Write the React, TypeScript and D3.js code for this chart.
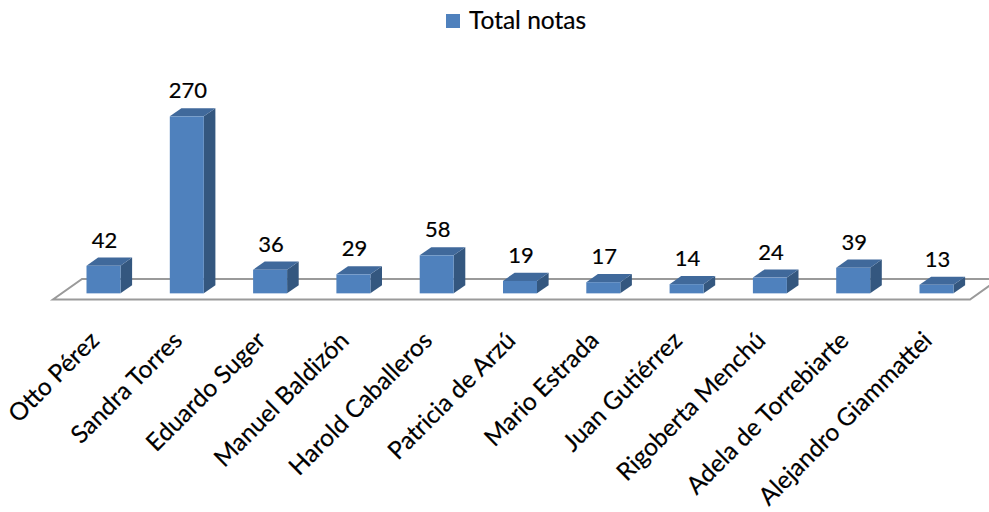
import React from 'react';
import * as d3 from 'd3';

const candidatos = [
  'Otto Pérez',
  'Sandra Torres',
  'Eduardo Suger',
  'Manuel Baldizón',
  'Harold Caballeros',
  'Patricia de Arzú',
  'Mario Estrada',
  'Juan Gutiérrez',
  'Rigoberta Menchú',
  'Adela de Torrebiarte',
  'Alejandro Giammattei',
];
const totalNotas = [42, 270, 36, 29, 58, 19, 17, 14, 24, 39, 13];
const serieNombre = 'Total notas';

const W = 989;
const H = 512;
const font = 'Lato, "Open Sans", sans-serif';

// floor geometry (front edge + depth vector)
const floorFrontY = 299.5;
const floorLeft = 53;
const floorRight = 970;
const depth = { dx: 29, dy: -20.5 };
const barDepth = 0.4; // fraction of floor depth
const barOffset = 0.3; // where the bar front sits inside the floor
const barW = 34;

const App = () => {
  const x = d3.scalePoint<string>().domain(candidatos).range([103.5, 936.5]);
  const h = d3.scaleLinear().domain([0, 270]).range([0, 177]);

  const baseY = floorFrontY + depth.dy * barOffset;
  const ddx = depth.dx * barDepth;
  const ddy = depth.dy * barDepth;

  const floor = [
    [floorLeft, floorFrontY],
    [floorRight, floorFrontY],
    [floorRight + depth.dx, floorFrontY + depth.dy],
    [floorLeft + depth.dx, floorFrontY + depth.dy],
  ];

  const txt = { fontFamily: font, fill: '#000', stroke: '#000', strokeWidth: 0.2 };

  return (
    <svg
      width={W}
      height={H}
      style={{ position: 'absolute', left: 0, top: 0, background: '#fff' }}
    >
      {/* legend */}
      <rect x={446} y={14} width={14} height={14} fill="#4F81BD" />
      <text x={469} y={28.5} fontSize={24.5} {...txt}>
        {serieNombre}
      </text>

      {/* floor */}
      <polygon
        points={floor.map(p => p.join(',')).join(' ')}
        fill="#fff"
        stroke="#9a9a9a"
        strokeWidth={2}
      />

      {candidatos.map((c, i) => {
        const cx = x(c)!;
        const x0 = cx - barW / 2;
        const x1 = cx + barW / 2;
        const top = baseY - h(totalNotas[i]);
        const side = `${x1},${baseY} ${x1 + ddx},${baseY + ddy} ${x1 + ddx},${top + ddy} ${x1},${top}`;
        const lid = `${x0},${top} ${x1},${top} ${x1 + ddx},${top + ddy} ${x0 + ddx},${top + ddy}`;
        return (
          <g key={c}>
            <polygon points={side} fill="#34577F" />
            <polygon points={lid} fill="#40699B" />
            <rect x={x0} y={top} width={barW} height={baseY - top} fill="#4F81BD" />
            <text x={cx + 1} y={top - 18} textAnchor="middle" fontSize={22} {...txt}>
              {totalNotas[i]}
            </text>
            <text
              transform={`translate(${cx - 3},${342}) rotate(-45)`}
              textAnchor="end"
              fontSize={24.5}
              {...txt}
            >
              {c}
            </text>
          </g>
        );
      })}
    </svg>
  );
};

export default App;
